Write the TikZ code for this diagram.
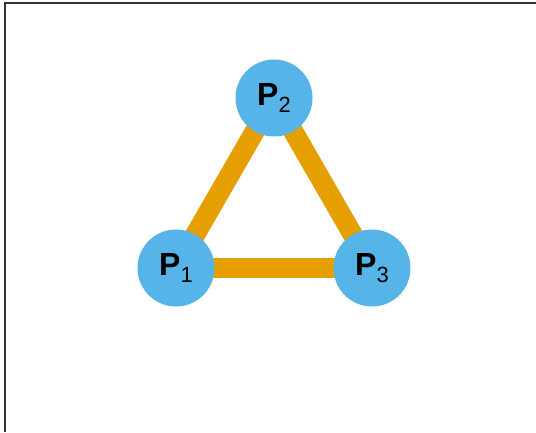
\documentclass[tikz,border=0pt]{standalone}
\usepackage{fontspec}
\setmainfont{Liberation Sans}
\definecolor{pblue}{HTML}{56B4E9}
\definecolor{porange}{HTML}{E69F00}
\definecolor{frame}{HTML}{333333}
\newcommand{\plabel}[1]{\textbf{P}\raisebox{-7pt}{\fontsize{22}{24}\selectfont #1}}
\begin{document}
\begin{tikzpicture}[x=1pt,y=1pt,
  pnode/.style={circle,fill=pblue,minimum size=77pt,inner sep=0pt,font=\fontsize{32}{34}\selectfont},
  edge/.style={porange,line width=20pt}]
\useasboundingbox (0,0) rectangle (536,432);
\coordinate (tl) at (5,428.5);
\coordinate (bl) at (5,0);
\coordinate (tr) at (536,428.5);
\draw[frame,line width=2pt] (bl) -- (tl) -- (tr);
\coordinate (c1) at (176,164);
\coordinate (c2) at (274,334);
\coordinate (c3) at (372,164);
\draw[edge] (c1) -- (c2);
\draw[edge] (c2) -- (c3);
\draw[edge] (c1) -- (c3);
\node[pnode] (p1) at (c1) {\plabel{1}};
\node[pnode] (p2) at (c2) {\plabel{2}};
\node[pnode] (p3) at (c3) {\plabel{3}};
\end{tikzpicture}
\end{document}
